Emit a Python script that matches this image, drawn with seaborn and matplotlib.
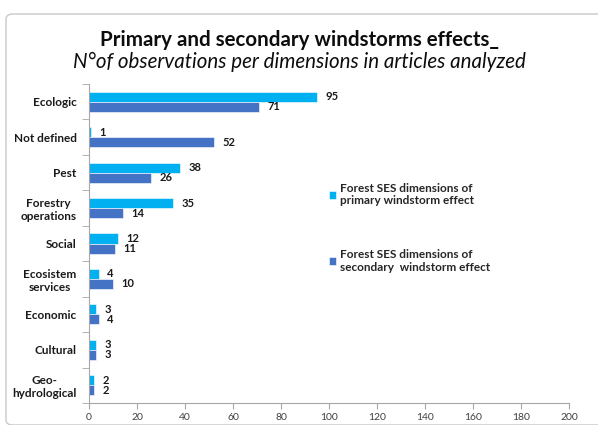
import matplotlib.pyplot as plt
from matplotlib.patches import FancyBboxPatch
import numpy as np
import pandas as pd
import seaborn as sns

categories = ['Ecologic', 'Not defined', 'Pest', 'Forestry\noperations', 'Social',
              'Ecosistem\nservices', 'Economic', 'Cultural', 'Geo-\nhydrological']
primary = [95, 1, 38, 35, 12, 4, 3, 3, 2]
secondary = [71, 52, 26, 14, 11, 10, 4, 3, 2]
series_names = ['Forest SES dimensions of\nprimary windstorm effect',
                'Forest SES dimensions of\nsecondary  windstorm effect']
x_ticks = list(range(0, 201, 20))

df = pd.DataFrame({
    'dimension': categories * 2,
    'count': primary + secondary,
    'series': [series_names[0]] * len(categories) + [series_names[1]] * len(categories),
})

sns.set_style('white')
plt.rcParams['font.family'] = ['Lato', 'DejaVu Sans']

fig = plt.figure(figsize=(5.98, 4.25), dpi=100)
ax = fig.add_axes([89 / 598, 1 - 403 / 425, 480 / 598, 319 / 425])

# frame around the whole chart
fig.patches.append(FancyBboxPatch((6 / 598, 0.0), 600 / 598, 1 - 14 / 425,
                                  boxstyle='round,pad=0,rounding_size=0.012',
                                  transform=fig.transFigure, facecolor='none',
                                  edgecolor='#c8c8c8', linewidth=1.0, zorder=-1))

sns.barplot(data=df, y='dimension', x='count', hue='series', orient='h',
            palette=['#00B0F0', '#4472C4'], saturation=1, width=0.57, ax=ax,
            edgecolor='white', linewidth=0.4, legend=True)

for cont in ax.containers:
    ax.bar_label(cont, padding=6, fontsize=8, fontweight='bold', color='#1a1a1a')

ax.set_xlim(0, 200)
ax.set_xticks(x_ticks)
ax.set_ylim(len(categories) - 0.5, -0.5)
ax.set_xlabel('')
ax.set_ylabel('')

ax.tick_params(axis='x', labelsize=7.5, colors='#404040', length=4, direction='out',
               bottom=True, color='#a6a6a6', pad=3)
ax.tick_params(axis='y', which='major', length=0, labelsize=8.5, pad=9)
ax.set_yticks(np.arange(-0.5, len(categories), 1), minor=True)
ax.tick_params(axis='y', which='minor', length=5, left=True, color='#a6a6a6', direction='out')
for lab in ax.get_yticklabels():
    lab.set_fontweight('bold')
    lab.set_color('#1a1a1a')
    lab.set_multialignment('center')

sns.despine(ax=ax, top=True, right=True)
ax.spines['left'].set_color('#a6a6a6')
ax.spines['bottom'].set_color('#a6a6a6')
ax.spines['left'].set_linewidth(0.8)
ax.spines['bottom'].set_linewidth(0.8)

handles, labels = ax.get_legend_handles_labels()
ax.get_legend().remove()
fig.legend(handles, labels, loc='upper left', bbox_to_anchor=(318 / 598, 1 - 172 / 425),
           frameon=False, labelspacing=3.6, handlelength=0.6, handleheight=0.6,
           handletextpad=0.4, prop={'weight': 'bold', 'size': 8.5})

fig.text(0.5, 1 - 40 / 425, 'Primary and secondary windstorms effects_', ha='center', va='center',
         fontsize=14.8, fontweight='bold', color='#0d0d0d')
fig.text(0.5, 1 - 62 / 425, 'N°of observations per dimensions in articles analyzed', ha='center',
         va='center', fontsize=14.8, style='italic', color='#0d0d0d')

plt.savefig('out.png', dpi=100)
